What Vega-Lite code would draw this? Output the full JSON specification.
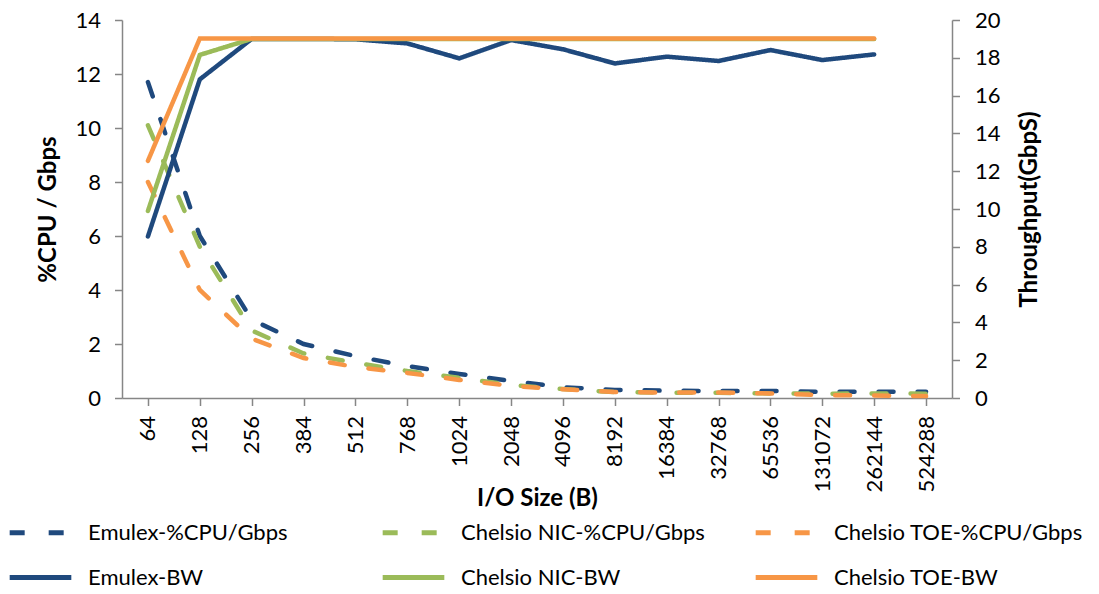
{
  "$schema": "https://vega.github.io/schema/vega-lite/v6.json",
  "width": 830,
  "height": 378,
  "autosize": {"type": "none"},
  "padding": {"left": 122, "top": 20, "right": 147, "bottom": 196},
  "background": "white",
  "config": {
    "view": {"stroke": null},
    "font": "Lato",
    "axis": {
      "domainColor": "#868686", "tickColor": "#868686", "domainWidth": 1.5, "tickWidth": 1.5, "tickSize": 7.5,
      "grid": false, "labelFont": "Lato", "labelFontSize": 22, "labelColor": "#000000",
      "titleFont": "Lato", "titleFontSize": 24, "titleFontWeight": "bold", "titleColor": "#000000"
    }
  },
  "data": {"values": [
    {"size": "64", "series": "Emulex-%CPU/Gbps", "metric": "cpu", "value": 11.7},
    {"size": "128", "series": "Emulex-%CPU/Gbps", "metric": "cpu", "value": 6.0},
    {"size": "256", "series": "Emulex-%CPU/Gbps", "metric": "cpu", "value": 2.9},
    {"size": "384", "series": "Emulex-%CPU/Gbps", "metric": "cpu", "value": 2.0},
    {"size": "512", "series": "Emulex-%CPU/Gbps", "metric": "cpu", "value": 1.55},
    {"size": "768", "series": "Emulex-%CPU/Gbps", "metric": "cpu", "value": 1.18},
    {"size": "1024", "series": "Emulex-%CPU/Gbps", "metric": "cpu", "value": 0.89},
    {"size": "2048", "series": "Emulex-%CPU/Gbps", "metric": "cpu", "value": 0.63},
    {"size": "4096", "series": "Emulex-%CPU/Gbps", "metric": "cpu", "value": 0.4},
    {"size": "8192", "series": "Emulex-%CPU/Gbps", "metric": "cpu", "value": 0.3},
    {"size": "16384", "series": "Emulex-%CPU/Gbps", "metric": "cpu", "value": 0.27},
    {"size": "32768", "series": "Emulex-%CPU/Gbps", "metric": "cpu", "value": 0.26},
    {"size": "65536", "series": "Emulex-%CPU/Gbps", "metric": "cpu", "value": 0.26},
    {"size": "131072", "series": "Emulex-%CPU/Gbps", "metric": "cpu", "value": 0.23},
    {"size": "262144", "series": "Emulex-%CPU/Gbps", "metric": "cpu", "value": 0.23},
    {"size": "524288", "series": "Emulex-%CPU/Gbps", "metric": "cpu", "value": 0.23},
    {"size": "64", "series": "Chelsio NIC-%CPU/Gbps", "metric": "cpu", "value": 10.1},
    {"size": "128", "series": "Chelsio NIC-%CPU/Gbps", "metric": "cpu", "value": 5.6},
    {"size": "256", "series": "Chelsio NIC-%CPU/Gbps", "metric": "cpu", "value": 2.5},
    {"size": "384", "series": "Chelsio NIC-%CPU/Gbps", "metric": "cpu", "value": 1.65},
    {"size": "512", "series": "Chelsio NIC-%CPU/Gbps", "metric": "cpu", "value": 1.3},
    {"size": "768", "series": "Chelsio NIC-%CPU/Gbps", "metric": "cpu", "value": 1.0},
    {"size": "1024", "series": "Chelsio NIC-%CPU/Gbps", "metric": "cpu", "value": 0.75},
    {"size": "2048", "series": "Chelsio NIC-%CPU/Gbps", "metric": "cpu", "value": 0.48},
    {"size": "4096", "series": "Chelsio NIC-%CPU/Gbps", "metric": "cpu", "value": 0.33},
    {"size": "8192", "series": "Chelsio NIC-%CPU/Gbps", "metric": "cpu", "value": 0.22},
    {"size": "16384", "series": "Chelsio NIC-%CPU/Gbps", "metric": "cpu", "value": 0.2},
    {"size": "32768", "series": "Chelsio NIC-%CPU/Gbps", "metric": "cpu", "value": 0.19},
    {"size": "65536", "series": "Chelsio NIC-%CPU/Gbps", "metric": "cpu", "value": 0.17},
    {"size": "131072", "series": "Chelsio NIC-%CPU/Gbps", "metric": "cpu", "value": 0.16},
    {"size": "262144", "series": "Chelsio NIC-%CPU/Gbps", "metric": "cpu", "value": 0.17},
    {"size": "524288", "series": "Chelsio NIC-%CPU/Gbps", "metric": "cpu", "value": 0.16},
    {"size": "64", "series": "Chelsio TOE-%CPU/Gbps", "metric": "cpu", "value": 8.0},
    {"size": "128", "series": "Chelsio TOE-%CPU/Gbps", "metric": "cpu", "value": 4.0},
    {"size": "256", "series": "Chelsio TOE-%CPU/Gbps", "metric": "cpu", "value": 2.2},
    {"size": "384", "series": "Chelsio TOE-%CPU/Gbps", "metric": "cpu", "value": 1.48},
    {"size": "512", "series": "Chelsio TOE-%CPU/Gbps", "metric": "cpu", "value": 1.15},
    {"size": "768", "series": "Chelsio TOE-%CPU/Gbps", "metric": "cpu", "value": 0.93},
    {"size": "1024", "series": "Chelsio TOE-%CPU/Gbps", "metric": "cpu", "value": 0.67},
    {"size": "2048", "series": "Chelsio TOE-%CPU/Gbps", "metric": "cpu", "value": 0.45},
    {"size": "4096", "series": "Chelsio TOE-%CPU/Gbps", "metric": "cpu", "value": 0.32},
    {"size": "8192", "series": "Chelsio TOE-%CPU/Gbps", "metric": "cpu", "value": 0.22},
    {"size": "16384", "series": "Chelsio TOE-%CPU/Gbps", "metric": "cpu", "value": 0.2},
    {"size": "32768", "series": "Chelsio TOE-%CPU/Gbps", "metric": "cpu", "value": 0.2},
    {"size": "65536", "series": "Chelsio TOE-%CPU/Gbps", "metric": "cpu", "value": 0.17},
    {"size": "131072", "series": "Chelsio TOE-%CPU/Gbps", "metric": "cpu", "value": 0.11},
    {"size": "262144", "series": "Chelsio TOE-%CPU/Gbps", "metric": "cpu", "value": 0.09},
    {"size": "524288", "series": "Chelsio TOE-%CPU/Gbps", "metric": "cpu", "value": 0.07},
    {"size": "64", "series": "Emulex-BW", "metric": "bw", "value": 8.55},
    {"size": "128", "series": "Emulex-BW", "metric": "bw", "value": 16.86},
    {"size": "256", "series": "Emulex-BW", "metric": "bw", "value": 19.0},
    {"size": "384", "series": "Emulex-BW", "metric": "bw", "value": 19.0},
    {"size": "512", "series": "Emulex-BW", "metric": "bw", "value": 18.98},
    {"size": "768", "series": "Emulex-BW", "metric": "bw", "value": 18.76},
    {"size": "1024", "series": "Emulex-BW", "metric": "bw", "value": 17.97},
    {"size": "2048", "series": "Emulex-BW", "metric": "bw", "value": 18.94},
    {"size": "4096", "series": "Emulex-BW", "metric": "bw", "value": 18.45},
    {"size": "8192", "series": "Emulex-BW", "metric": "bw", "value": 17.7},
    {"size": "16384", "series": "Emulex-BW", "metric": "bw", "value": 18.06},
    {"size": "32768", "series": "Emulex-BW", "metric": "bw", "value": 17.83},
    {"size": "65536", "series": "Emulex-BW", "metric": "bw", "value": 18.41},
    {"size": "131072", "series": "Emulex-BW", "metric": "bw", "value": 17.88},
    {"size": "262144", "series": "Emulex-BW", "metric": "bw", "value": 18.18},
    {"size": "64", "series": "Chelsio NIC-BW", "metric": "bw", "value": 9.9},
    {"size": "128", "series": "Chelsio NIC-BW", "metric": "bw", "value": 18.15},
    {"size": "256", "series": "Chelsio NIC-BW", "metric": "bw", "value": 19.0},
    {"size": "384", "series": "Chelsio NIC-BW", "metric": "bw", "value": 19.0},
    {"size": "512", "series": "Chelsio NIC-BW", "metric": "bw", "value": 19.0},
    {"size": "768", "series": "Chelsio NIC-BW", "metric": "bw", "value": 19.0},
    {"size": "1024", "series": "Chelsio NIC-BW", "metric": "bw", "value": 19.0},
    {"size": "2048", "series": "Chelsio NIC-BW", "metric": "bw", "value": 19.0},
    {"size": "4096", "series": "Chelsio NIC-BW", "metric": "bw", "value": 19.0},
    {"size": "8192", "series": "Chelsio NIC-BW", "metric": "bw", "value": 19.0},
    {"size": "16384", "series": "Chelsio NIC-BW", "metric": "bw", "value": 19.0},
    {"size": "32768", "series": "Chelsio NIC-BW", "metric": "bw", "value": 19.0},
    {"size": "65536", "series": "Chelsio NIC-BW", "metric": "bw", "value": 19.0},
    {"size": "131072", "series": "Chelsio NIC-BW", "metric": "bw", "value": 19.0},
    {"size": "262144", "series": "Chelsio NIC-BW", "metric": "bw", "value": 19.0},
    {"size": "64", "series": "Chelsio TOE-BW", "metric": "bw", "value": 12.55},
    {"size": "128", "series": "Chelsio TOE-BW", "metric": "bw", "value": 19.02},
    {"size": "256", "series": "Chelsio TOE-BW", "metric": "bw", "value": 19.02},
    {"size": "384", "series": "Chelsio TOE-BW", "metric": "bw", "value": 19.02},
    {"size": "512", "series": "Chelsio TOE-BW", "metric": "bw", "value": 19.02},
    {"size": "768", "series": "Chelsio TOE-BW", "metric": "bw", "value": 19.02},
    {"size": "1024", "series": "Chelsio TOE-BW", "metric": "bw", "value": 19.02},
    {"size": "2048", "series": "Chelsio TOE-BW", "metric": "bw", "value": 19.02},
    {"size": "4096", "series": "Chelsio TOE-BW", "metric": "bw", "value": 19.02},
    {"size": "8192", "series": "Chelsio TOE-BW", "metric": "bw", "value": 19.02},
    {"size": "16384", "series": "Chelsio TOE-BW", "metric": "bw", "value": 19.02},
    {"size": "32768", "series": "Chelsio TOE-BW", "metric": "bw", "value": 19.02},
    {"size": "65536", "series": "Chelsio TOE-BW", "metric": "bw", "value": 19.02},
    {"size": "131072", "series": "Chelsio TOE-BW", "metric": "bw", "value": 19.02},
    {"size": "262144", "series": "Chelsio TOE-BW", "metric": "bw", "value": 19.02}
  ]},
  "encoding": {
    "x": {
      "field": "size", "type": "ordinal",
      "sort": ["64","128","256","384","512","768","1024","2048","4096","8192","16384","32768","65536","131072","262144","524288"],
      "scale": {"type": "point", "padding": 0.5},
      "axis": {"title": "I/O Size (B)", "labelAngle": -90, "labelPadding": 10, "titlePadding": -6}
    },
    "color": {
      "field": "series", "type": "nominal",
      "scale": {
        "domain": ["Emulex-%CPU/Gbps","Chelsio NIC-%CPU/Gbps","Chelsio TOE-%CPU/Gbps","Emulex-BW","Chelsio NIC-BW","Chelsio TOE-BW"],
        "range": ["#1F497D","#9BBB59","#F79646","#1F497D","#9BBB59","#F79646"]
      },
      "legend": {
        "title": null, "orient": "none", "direction": "horizontal", "legendX": -115, "legendY": 479, "columns": 3, "gridAlign": "all",
        "symbolType": "stroke", "symbolSize": 3800, "symbolStrokeWidth": 5,
        "labelFont": "Lato", "labelFontSize": 22, "labelColor": "#000000", "labelLimit": 400,
        "columnPadding": 35, "rowPadding": 0, "labelOffset": 14
      }
    },
    "strokeDash": {
      "field": "series", "type": "nominal",
      "scale": {
        "domain": ["Emulex-%CPU/Gbps","Chelsio NIC-%CPU/Gbps","Chelsio TOE-%CPU/Gbps","Emulex-BW","Chelsio NIC-BW","Chelsio TOE-BW"],
        "range": [[15,24],[15,24],[15,24],[1,0],[1,0],[1,0]]
      },
      "legend": {
        "title": null, "orient": "none", "direction": "horizontal", "legendX": -115, "legendY": 479, "columns": 3, "gridAlign": "all",
        "symbolType": "stroke", "symbolSize": 3800, "symbolStrokeWidth": 5,
        "labelFont": "Lato", "labelFontSize": 22, "labelColor": "#000000", "labelLimit": 400,
        "columnPadding": 35, "rowPadding": 0, "labelOffset": 14
      }
    }
  },
  "layer": [
    {
      "transform": [{"filter": "datum.metric === 'cpu'"}],
      "mark": {"type": "line", "strokeWidth": 4.5, "strokeCap": "round"},
      "encoding": {
        "y": {
          "field": "value", "type": "quantitative",
          "scale": {"domain": [0, 14], "nice": false},
          "axis": {"title": "%CPU / Gbps", "values": [0,2,4,6,8,10,12,14], "labelPadding": 14, "titlePadding": 14}
        }
      }
    },
    {
      "transform": [{"filter": "datum.metric === 'bw'"}],
      "mark": {"type": "line", "strokeWidth": 4.5, "strokeCap": "round"},
      "encoding": {
        "y": {
          "field": "value", "type": "quantitative",
          "scale": {"domain": [0, 20], "nice": false},
          "axis": {"orient": "right", "title": "Throughput(GbpS)", "values": [0,2,4,6,8,10,12,14,16,18,20], "labelPadding": 15, "titlePadding": 17, "titleAngle": -90, "titleBaseline": "top"}
        }
      }
    }
  ],
  "resolve": {"scale": {"y": "independent"}}
}
